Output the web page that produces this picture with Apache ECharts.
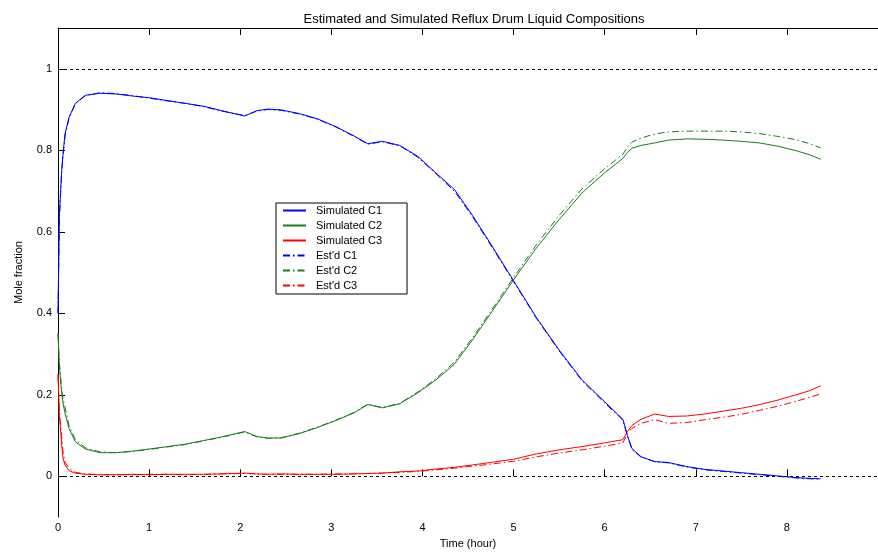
<!DOCTYPE html>
<html>
<head>
<meta charset="utf-8">
<script src="https://cdn.jsdelivr.net/npm/echarts@6/dist/echarts.min.js"></script>
<style>
  html, body { margin: 0; padding: 0; background: #fff; }
  #chart { width: 878px; height: 554px; }
</style>
</head>
<body>
<div id="chart"></div>
<script>
// Time samples (hours) shared by all six composition curves
const timeHours = [0, 0.015, 0.04, 0.055, 0.077, 0.12, 0.19, 0.3, 0.46, 0.64, 0.82, 1.0, 1.2, 1.4, 1.6, 1.8,
  2.05, 2.18, 2.3, 2.45, 2.65, 2.85, 3.05, 3.25, 3.4, 3.56, 3.75, 3.95, 4.15, 4.35, 4.55, 4.75, 5.0, 5.25,
  5.5, 5.75, 6.0, 6.2, 6.25, 6.3, 6.4, 6.55, 6.7, 6.9, 7.1, 7.3, 7.5, 7.7, 7.9, 8.1, 8.25, 8.37];

// Simulated mole fractions
const simC1 = [0.40, 0.64, 0.75, 0.79, 0.84, 0.88, 0.915, 0.935, 0.94, 0.938, 0.933, 0.929, 0.922, 0.915, 0.908, 0.897,
  0.884, 0.897, 0.901, 0.899, 0.89, 0.877, 0.858, 0.835, 0.816, 0.822, 0.812, 0.785, 0.744, 0.704, 0.64, 0.57, 0.48, 0.39,
  0.31, 0.237, 0.183, 0.14, 0.10, 0.068, 0.048, 0.036, 0.034, 0.024, 0.017, 0.013, 0.009, 0.005, 0.001, -0.003, -0.005, -0.006];
const simC2 = [0.35, 0.27, 0.205, 0.18, 0.155, 0.118, 0.085, 0.067, 0.058, 0.058, 0.062, 0.067, 0.073, 0.079, 0.088, 0.097,
  0.11, 0.098, 0.094, 0.094, 0.105, 0.12, 0.137, 0.156, 0.176, 0.168, 0.178, 0.205, 0.237, 0.275, 0.335, 0.40, 0.482, 0.56,
  0.63, 0.695, 0.745, 0.78, 0.795, 0.805, 0.812, 0.818, 0.825, 0.828, 0.827, 0.825, 0.822, 0.818, 0.81, 0.799, 0.789, 0.778];
const simC3 = [0.25, 0.15, 0.08, 0.045, 0.028, 0.014, 0.008, 0.005, 0.004, 0.004, 0.005, 0.004, 0.005, 0.005, 0.005, 0.006,
  0.008, 0.006, 0.005, 0.006, 0.005, 0.005, 0.005, 0.006, 0.007, 0.008, 0.011, 0.013, 0.018, 0.022, 0.028, 0.034, 0.042, 0.055,
  0.065, 0.073, 0.082, 0.09, 0.11, 0.125, 0.14, 0.153, 0.147, 0.148, 0.153, 0.16, 0.167, 0.176, 0.187, 0.20, 0.21, 0.222];

// Estimated mole fractions
const estC1 = [0.40, 0.63, 0.745, 0.785, 0.835, 0.878, 0.914, 0.934, 0.941, 0.939, 0.934, 0.928, 0.921, 0.915, 0.907, 0.896,
  0.885, 0.896, 0.90, 0.898, 0.889, 0.876, 0.857, 0.834, 0.815, 0.821, 0.811, 0.783, 0.742, 0.70, 0.637, 0.567, 0.478, 0.388,
  0.308, 0.235, 0.18, 0.138, 0.098, 0.066, 0.047, 0.036, 0.033, 0.023, 0.016, 0.012, 0.008, 0.004, 0.0, -0.004, -0.006, -0.007];
const estC2 = [0.35, 0.28, 0.215, 0.19, 0.17, 0.125, 0.09, 0.07, 0.06, 0.058, 0.061, 0.066, 0.072, 0.078, 0.087, 0.096,
  0.109, 0.097, 0.093, 0.095, 0.106, 0.121, 0.138, 0.157, 0.177, 0.169, 0.179, 0.207, 0.24, 0.28, 0.34, 0.405, 0.488, 0.568,
  0.64, 0.705, 0.755, 0.79, 0.808, 0.82, 0.83, 0.84, 0.845, 0.847, 0.847, 0.847, 0.845, 0.841, 0.834, 0.826, 0.816, 0.806];
const estC3 = [0.25, 0.16, 0.10, 0.06, 0.035, 0.02, 0.01, 0.006, 0.004, 0.004, 0.004, 0.005, 0.005, 0.004, 0.005, 0.006,
  0.007, 0.006, 0.005, 0.005, 0.005, 0.005, 0.006, 0.006, 0.007, 0.008, 0.01, 0.012, 0.016, 0.02, 0.025, 0.03, 0.037, 0.048,
  0.057, 0.065, 0.074, 0.082, 0.105, 0.118, 0.13, 0.139, 0.13, 0.132, 0.139, 0.145, 0.152, 0.162, 0.172, 0.184, 0.194, 0.202];

const xTicks = [0, 1, 2, 3, 4, 5, 6, 7, 8];
const yTicks = [0, 0.2, 0.4, 0.6, 0.8, 1];

const BLUE = '#0000ff', GREEN = '#1f7a1f', RED = '#ff0000';
const DASH_DOT = [7, 3, 1.5, 3];
const FONT = 'Liberation Sans, Arial, sans-serif';

function pairs(values) {
  return timeHours.map((t, i) => [t, values[i]]);
}

function curve(name, values, color, dashed) {
  return {
    name: name,
    type: 'line',
    data: pairs(values),
    symbol: 'none',
    showSymbol: false,
    smooth: false,
    animation: false,
    lineStyle: { color: color, width: 1, type: dashed ? DASH_DOT : 'solid' },
    itemStyle: { color: color }
  };
}

const series = [
  curve('Simulated C1', simC1, BLUE, false),
  curve('Simulated C2', simC2, GREEN, false),
  curve('Simulated C3', simC3, RED, false),
  curve("Est'd C1", estC1, BLUE, true),
  curve("Est'd C2", estC2, GREEN, true),
  curve("Est'd C3", estC3, RED, true)
];

// Dotted reference lines at mole fraction 0 and 1
series[0].markLine = {
  silent: true,
  symbol: 'none',
  label: { show: false },
  animation: false,
  lineStyle: { color: '#000', width: 1, type: [3, 3] },
  data: [{ yAxis: 0 }, { yAxis: 1 }]
};

const chart = echarts.init(document.getElementById('chart'), null, { renderer: 'canvas' });
chart.setOption({
  backgroundColor: '#fff',
  animation: false,
  title: {
    text: 'Estimated and Simulated Reflux Drum Liquid Compositions',
    left: 469,
    textAlign: 'center',
    top: 8,
    textStyle: { fontFamily: FONT, fontSize: 13, fontWeight: 'normal', color: '#000' }
  },
  grid: { left: 58, right: -2, top: 28, bottom: 36, containLabel: false },
  legend: {
    orient: 'vertical',
    left: 276,
    top: 203,
    itemWidth: 23,
    itemHeight: 10,
    itemGap: 4,
    padding: [2, 25, 3, 6],
    borderColor: '#000',
    borderWidth: 1,
    backgroundColor: '#fff',
    selectedMode: false,
    itemStyle: { opacity: 0 },
    textStyle: { fontFamily: FONT, fontSize: 11, color: '#000', padding: [0, 0, 0, 5] },
    data: ['Simulated C1', 'Simulated C2', 'Simulated C3', "Est'd C1", "Est'd C2", "Est'd C3"]
  },
  xAxis: [
    {
      type: 'value',
      min: 0,
      max: 9,
      name: 'Time (hour)',
      nameLocation: 'middle',
      nameGap: 20,
      nameTextStyle: { fontFamily: FONT, fontSize: 11, color: '#000' },
      axisLine: { show: false },
      axisTick: { show: true, inside: true, length: 7, customValues: xTicks, lineStyle: { color: '#000' } },
      axisLabel: { customValues: xTicks, margin: 5, fontFamily: FONT, fontSize: 11, color: '#000' },
      splitLine: { show: false }
    },
    {
      type: 'value',
      position: 'top',
      min: 0,
      max: 9,
      axisLine: { show: true, lineStyle: { color: '#000', width: 1 } },
      axisTick: { show: true, inside: true, length: 7, customValues: xTicks, lineStyle: { color: '#000' } },
      axisLabel: { show: false },
      splitLine: { show: false }
    }
  ],
  yAxis: {
    type: 'value',
    min: -0.1,
    max: 1.1,
    name: 'Mole fraction',
    nameLocation: 'middle',
    nameGap: 34,
    nameTextStyle: { fontFamily: FONT, fontSize: 11, color: '#000' },
    axisLine: { show: true, lineStyle: { color: '#000', width: 1 } },
    axisTick: { show: true, inside: true, length: 7, customValues: yTicks, lineStyle: { color: '#000' } },
    axisLabel: {
      customValues: yTicks,
      margin: 6,
      fontFamily: FONT,
      fontSize: 11,
      color: '#000',
      formatter: v => (v === 0 || v === 1) ? String(v) : v.toFixed(1)
    },
    splitLine: { show: false }
  },
  series: series
});
</script>
</body>
</html>
